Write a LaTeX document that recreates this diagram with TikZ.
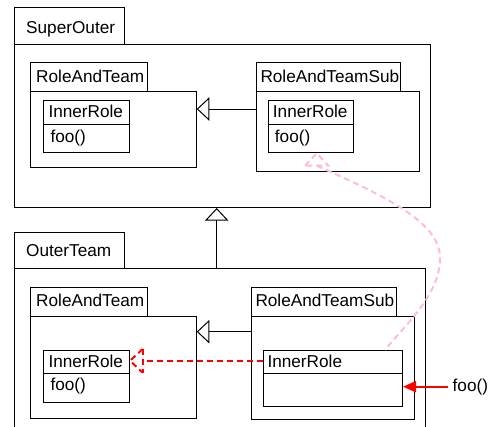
\documentclass[tikz,border=0pt]{standalone}
\usepackage{fontspec}
\setmainfont{Liberation Sans}
\usetikzlibrary{arrows.meta}
\definecolor{pinkline}{RGB}{255,190,205}
\tikzset{
  box/.style={draw, line width=1pt, inner sep=0pt, anchor=north west},
  lbl/.style={inner sep=0pt, anchor=base west, font=\fontsize{17.2}{20}\selectfont},
  divider/.style={line width=1pt},
  inherit/.style={line width=1pt, -{Triangle[open, length=12.6pt, width=23.4pt, line width=1pt]}},
  redcall/.style={red, line width=2pt, -{Triangle[length=13pt, width=11pt]}},
  reddash/.style={red, line width=2pt, dash pattern=on 6pt off 4pt},
  pinkdash/.style={pinkline, line width=2pt, dash pattern=on 6pt off 4pt},
}
\begin{document}
\begin{tikzpicture}[x=1pt, y=-1pt]
\useasboundingbox (0,0) rectangle (489,426);
\clip (0,0) rectangle (489,426);
% SuperOuter package
\node[box, minimum width=110pt, minimum height=36.4pt] (sotab) at (14,7.3) {};
\node[box, minimum width=416pt, minimum height=163.3pt] (so) at (14,43.7) {};
\node[lbl] (solbl) at (26,33) {SuperOuter};
% upper RoleAndTeam
\node[box, minimum width=117pt, minimum height=29pt] (rt1tab) at (30,62) {};
\node[box, minimum width=165.7pt, minimum height=76pt] (rt1) at (30,91) {};
\node[lbl] (rt1lbl) at (36,82.5) {RoleAndTeam};
\node[box, minimum width=85.7pt, minimum height=52.3pt] (ir1) at (43.3,100) {};
\draw[divider] (ir1.west |- 0,124.7) -- (ir1.east |- 0,124.7);
\node[lbl] (ir1lbl) at (48.3,117) {InnerRole};
\node[lbl] (ir1foo) at (50.3,142) {foo()};
% upper RoleAndTeamSub
\node[box, minimum width=144.6pt, minimum height=29pt] (rs1tab) at (255.7,62) {};
\node[box, minimum width=163.3pt, minimum height=79.7pt] (rs1) at (255.7,91) {};
\node[lbl] (rs1lbl) at (260.3,82.5) {RoleAndTeamSub};
\node[box, minimum width=85.6pt, minimum height=52.3pt] (ir2) at (267.7,100) {};
\draw[divider] (ir2.west |- 0,124.7) -- (ir2.east |- 0,124.7);
\node[lbl] (ir2lbl) at (272.7,117) {InnerRole};
\node[lbl] (ir2foo) at (274.7,142) {foo()};
% inheritance upper
\coordinate (a1) at (255.7,109);
\coordinate (a1t) at (196.7,109);
\draw[inherit] (a1) -- (a1t);
% OuterTeam package
\node[box, minimum width=110pt, minimum height=36.6pt] (ottab) at (14,231.7) {};
\node[box, minimum width=411.3pt, minimum height=180pt] (ot) at (14,268.3) {};
\node[lbl] (otlbl) at (26,256.5) {OuterTeam};
% package inheritance
\coordinate (p1) at (216.7,268.3);
\coordinate (p1t) at (216.7,208);
\draw[inherit] (p1) -- (p1t);
% lower RoleAndTeam
\node[box, minimum width=117pt, minimum height=29pt] (rt2tab) at (30,286.7) {};
\node[box, minimum width=165.7pt, minimum height=102.6pt] (rt2) at (30,315.7) {};
\node[lbl] (rt2lbl) at (36,306.5) {RoleAndTeam};
\node[box, minimum width=85.7pt, minimum height=52.3pt] (ir3) at (43.3,350) {};
\draw[divider] (ir3.west |- 0,373.3) -- (ir3.east |- 0,373.3);
\node[lbl] (ir3lbl) at (48.3,367.2) {InnerRole};
\node[lbl] (ir3foo) at (50.3,390.5) {foo()};
% lower RoleAndTeamSub
\node[box, minimum width=145pt, minimum height=29pt] (rs2tab) at (250.7,286.7) {};
\node[box, minimum width=163.6pt, minimum height=103pt] (rs2) at (250.7,315.7) {};
\node[lbl] (rs2lbl) at (255.3,306.5) {RoleAndTeamSub};
\node[box, minimum width=139pt, minimum height=55.7pt] (ir4) at (263,350) {};
\draw[divider] (ir4.west |- 0,373.3) -- (ir4.east |- 0,373.3);
\node[lbl] (ir4lbl) at (267.3,367.2) {InnerRole};
% inheritance lower
\coordinate (a2) at (250.7,331.7);
\coordinate (a2t) at (196.7,331.7);
\draw[inherit] (a2) -- (a2t);
% red dashed relation
\coordinate (rdb) at (142.7,360.7);
\draw[reddash] (ir4.west |- rdb) -- (rdb);
\draw[reddash] (142.7,349) -- (130,360.7) -- (142.7,372.7);
\draw[reddash] (142.7,349) -- (142.7,372.7);
% red call arrow
\coordinate (callsrc) at (448,386.7);
\draw[redcall] (callsrc) -- (ir4.east |- callsrc);
\node[lbl] (calllbl) at (452.5,391.5) {foo()};
% pink dashed relation
\coordinate (pkb) at (316.7,165.7);
\draw[pinkdash] (305,165.7) -- (316.7,153.3) -- (328.3,165.7) -- cycle;
\draw[pinkdash] (pkb) .. controls (395,200) and (440,225) .. (440,258)
  .. controls (440,295) and (405,325) .. (385,350);
\end{tikzpicture}
\end{document}
